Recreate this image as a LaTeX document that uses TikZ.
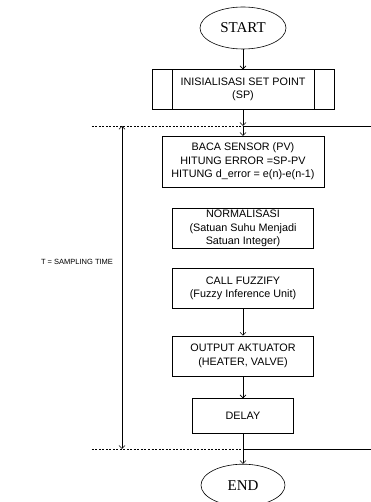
\documentclass[tikz,border=0pt]{standalone}
\usepackage{fontspec}
\setmainfont{Liberation Serif}
\setsansfont{Liberation Sans}
\usetikzlibrary{shapes.geometric, arrows.meta, positioning, calc}

\begin{document}
\begin{tikzpicture}[
    node distance=20pt,
    terminal/.style={ellipse, draw, line width=0.6pt, minimum width=86pt, minimum height=42pt,
                inner sep=0pt, font=\fontsize{15}{18}\selectfont},
    process/.style={rectangle, draw, line width=0.6pt, minimum width=141pt, minimum height=40pt,
                inner sep=1pt, font=\sffamily\fontsize{10.8}{13.5}\selectfont, align=center},
    arrow/.style={-{Straight Barb[length=3pt,width=6pt]}, line width=0.6pt},
    span/.style={{Straight Barb[length=3pt,width=6pt]}-{Straight Barb[length=3pt,width=6pt]}, line width=0.6pt},
    border/.style={dash pattern=on 2pt off 1.5pt, line width=0.6pt}
]
    \useasboundingbox (-243pt,28pt) rectangle (128pt,-474pt);

    % Start and initialisation
    \node[terminal] (start) at (0,0) {START};
    \node[process, minimum width=182pt, below=20pt of start] (init) {INISIALISASI SET POINT\\(SP)};
    \draw[line width=0.6pt] ([xshift=21pt]init.north west) -- ([xshift=21pt]init.south west);
    \draw[line width=0.6pt] ([xshift=-20pt]init.north east) -- ([xshift=-20pt]init.south east);

    % Loop body
    \coordinate[below=16pt of init] (looptop);
    \node[process, minimum width=162pt, minimum height=51pt, below=26pt of init] (sensor)
        {BACA SENSOR (PV)\\HITUNG ERROR =SP-PV\\HITUNG d\_error = e(n)-e(n-1)};
    \node[process, below=21pt of sensor] (norm) {NORMALISASI\\(Satuan Suhu Menjadi\\Satuan Integer)};
    \node[process, below=19pt of norm] (fuzzify) {CALL FUZZIFY\\(Fuzzy Inference Unit)};
    \node[process, below=27pt of fuzzify] (output) {OUTPUT AKTUATOR\\(HEATER, VALVE)};
    \node[process, minimum width=101pt, minimum height=35pt, below=22pt of output] (delay) {DELAY};
    \coordinate[below=15pt of delay] (loopbot);

    % End
    \node[terminal, minimum width=84pt, below=30pt of delay] (end) {END};

    % Sampling period limits
    \draw[border] ([xshift=-151pt]looptop) -- (looptop);
    \draw[line width=0.6pt] (looptop) -- ([xshift=128pt]looptop);
    \draw[border] ([xshift=-151pt]loopbot) -- (loopbot);
    \draw[line width=0.6pt] (loopbot) -- ([xshift=128pt]loopbot);
    \draw[span] ([xshift=-121pt]looptop) -- ([xshift=-121pt]loopbot);
    \node[font=\sffamily\fontsize{7.5}{9}\selectfont] (period) at (-166pt,-234pt) {T = SAMPLING TIME};

    % Arrows
    \draw[arrow] (start) -- (init);
    \draw[arrow] (init) -- (looptop);
    \draw[arrow] (looptop) -- (sensor);
    \draw[arrow] (fuzzify) -- (output);
    \draw[arrow] (output) -- (delay);
    \draw[arrow] (delay) -- (end);
\end{tikzpicture}
\end{document}
